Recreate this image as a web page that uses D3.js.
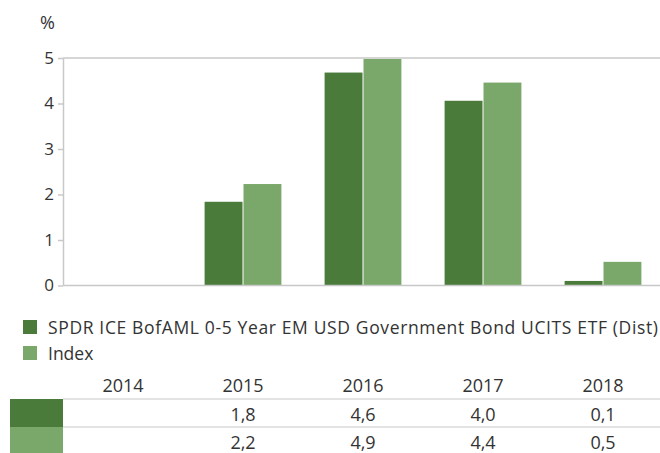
<!DOCTYPE html>
<html>
<head>
<meta charset="utf-8">
<script src="https://cdn.jsdelivr.net/npm/d3@7"></script>
<style>
  body { margin: 0; background: #fff; }
  svg { display: block; font-family: "Open Sans", sans-serif; }
</style>
</head>
<body>
<div id="chart"></div>
<script>
// jaren en rendementen (%), 2014 heeft geen waarde
const years = ["2014", "2015", "2016", "2017", "2018"];
const series = ["SPDR ICE BofAML 0-5 Year EM USD Government Bond UCITS ETF (Dist)", "Index"];
const fundValues = [null, 1.84, 4.68, 4.06, 0.10];
const indexValues = [null, 2.23, 4.98, 4.46, 0.52];
const yTicks = [0, 1, 2, 3, 4, 5];
const colors = ["#4a7b3b", "#7aa86a"];

const width = 660, height = 453;
const plot = {left: 63, right: 663, top: 58, bottom: 285.5};
const gridColor = "#c8c8c8", textColor = "#333";

const svg = d3.select("#chart").append("svg")
  .attr("width", width).attr("height", height);

const x0 = d3.scaleBand().domain(years)
  .range([plot.left, plot.right])
  .paddingInner(0.36).paddingOuter(0.18);
const x1 = d3.scaleBand().domain(series).range([0, x0.bandwidth()]);
const y = d3.scaleLinear().domain([0, 5]).range([plot.bottom, plot.top]);

const rows = [fundValues, indexValues];

// bars
series.forEach((s, i) => {
  svg.append("g").selectAll("rect")
    .data(years.map((yr, j) => ({yr, v: rows[i][j]})).filter(d => d.v != null))
    .join("rect")
      .attr("x", d => x0(d.yr) + x1(s) + (i === 1 ? 0.5 : 0))
      .attr("width", x1.bandwidth() - 0.5)
      .attr("y", d => y(d.v))
      .attr("height", d => y(0) - y(d.v))
      .attr("fill", colors[i]);
});

// y axis
const yAxis = svg.append("g")
  .attr("transform", `translate(${plot.left},0)`)
  .call(d3.axisLeft(y).tickValues(yTicks).tickFormat(d3.format("d"))
    .tickSize(5).tickPadding(4).tickSizeOuter(0));
yAxis.select(".domain").attr("stroke", gridColor).attr("stroke-width", 1.5);
yAxis.selectAll(".tick line").attr("stroke", gridColor).attr("stroke-width", 1.5);
yAxis.selectAll(".tick text")
  .attr("fill", textColor).style("font-size", "17px").style("font-family", "Open Sans");

// top and base lines
[5, 0].forEach(v => {
  svg.append("line")
    .attr("x1", plot.left).attr("x2", width)
    .attr("y1", y(v)).attr("y2", y(v))
    .attr("stroke", gridColor).attr("stroke-width", 1.5);
});

svg.append("text")
  .attr("x", 55).attr("y", 29)
  .attr("text-anchor", "end")
  .attr("fill", textColor).style("font-size", "18px")
  .text("%");

// legend
series.forEach((s, i) => {
  const ly = 320 + i * 26;
  svg.append("rect").attr("x", 23).attr("y", ly).attr("width", 14).attr("height", 14)
    .attr("fill", colors[i]);
  const t = svg.append("text").attr("x", 48).attr("y", ly + 14)
    .attr("fill", textColor).style("font-size", "17.5px")
    .text(s);
  if (i === 0) t.attr("textLength", 610).attr("lengthAdjust", "spacing");
});

// table
const fmt = v => v == null ? "" : (Math.floor(v * 10 + 1e-9) / 10).toFixed(1).replace(".", ",");
const cx = yr => x0(yr) + x0.bandwidth() / 2;

svg.append("g").selectAll("text")
  .data(years).join("text")
    .attr("x", cx).attr("y", 391.5)
    .attr("text-anchor", "middle")
    .attr("fill", textColor).style("font-size", "18px")
    .text(d => d);

const rowTop = [399, 427];
rows.forEach((vals, i) => {
  svg.append("rect").attr("x", 10).attr("y", rowTop[i])
    .attr("width", plot.left - 10).attr("height", 28)
    .attr("fill", colors[i]);
  svg.append("line")
    .attr("x1", plot.left).attr("x2", width)
    .attr("y1", rowTop[i]).attr("y2", rowTop[i])
    .attr("stroke", gridColor).attr("stroke-width", 1.2);
  svg.append("g").selectAll("text")
    .data(years.map((yr, j) => ({yr, v: vals[j]})))
    .join("text")
      .attr("x", d => cx(d.yr)).attr("y", rowTop[i] + 21.5)
      .attr("text-anchor", "middle")
      .attr("fill", textColor).style("font-size", "18px")
      .text(d => fmt(d.v));
});
</script>
</body>
</html>
